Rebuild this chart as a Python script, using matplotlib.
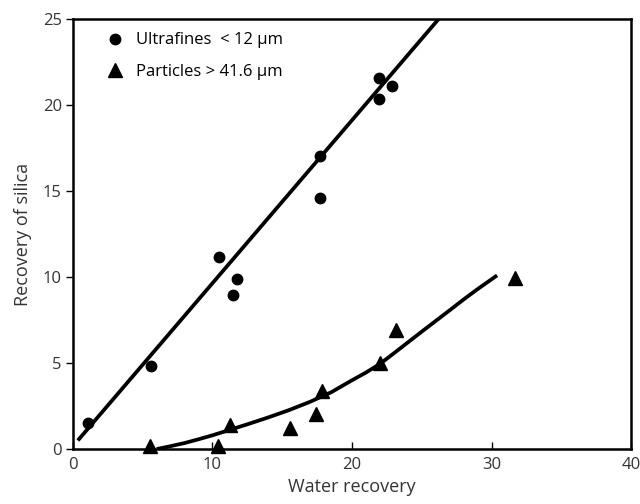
import matplotlib
matplotlib.use('Agg')
import matplotlib.pyplot as plt

plt.rcParams['font.family'] = ['Open Sans', 'DejaVu Sans']

# ultrafines < 12 um
fine_x = [1.05, 5.6, 10.45, 11.45, 11.75, 17.7, 17.7, 21.9, 21.9, 22.9]
fine_y = [1.5, 4.85, 11.15, 8.95, 9.9, 17.05, 14.6, 21.6, 20.35, 21.1]
fine_fit_x = [0.35, 26.2]
fine_fit_y = [0.5, 25.0]

# particles > 41.6 um
coarse_x = [5.5, 10.4, 11.25, 15.55, 17.4, 17.85, 22.0, 23.15, 31.7]
coarse_y = [0.2, 0.2, 1.4, 1.25, 2.05, 3.4, 5.0, 6.9, 9.95]
coarse_fit_x = [6.0, 7.0, 8.0, 9.0, 10.0, 11.25, 12.5, 14.0, 15.5, 17.0, 18.5, 20.0, 21.0, 22.0,
                23.0, 24.0, 25.0, 26.0, 27.0, 28.0, 29.0, 30.4]
coarse_fit_y = [0.0, 0.17, 0.35, 0.57, 0.8, 1.12, 1.44, 1.84, 2.27, 2.75, 3.3, 4.0, 4.45, 4.95,
                5.57, 6.2, 6.83, 7.45, 8.07, 8.7, 9.3, 10.1]

fig = plt.figure(figsize=(6.4, 5.04), dpi=100)
ax = fig.add_axes([0.114, 0.109, 0.872, 0.853])

ax.plot(coarse_fit_x, coarse_fit_y, color='black', lw=2.7, solid_capstyle='butt', solid_joinstyle='round')
ax.plot(fine_fit_x, fine_fit_y, color='black', lw=2.7, solid_capstyle='butt')
ax.plot(fine_x, fine_y, 'o', color='black', ms=7.5, clip_on=False, label='Ultrafines  < 12 µm')
ax.plot(coarse_x, coarse_y, '^', color='black', ms=9.5, clip_on=False, label='Particles > 41.6 µm')

ax.set_xlim(0, 40)
ax.set_ylim(0, 25)
ax.set_xticks([0, 10, 20, 30, 40])
ax.set_yticks([0, 5, 10, 15, 20, 25])
ax.tick_params(axis='x', direction='in', length=5, width=1, labelsize=12, labelcolor='#333333', pad=6)
ax.tick_params(axis='y', direction='out', length=5, width=1, labelsize=12, labelcolor='#333333', pad=3)
for s in ax.spines.values():
    s.set_linewidth(1.8)

ax.set_xlabel('Water recovery', fontsize=13, color='#333333', labelpad=3)
ax.set_ylabel('Recovery of silica', fontsize=13, color='#333333', labelpad=8)

ax.legend(loc='upper left', frameon=False, fontsize=12, handletextpad=0.6,
          borderaxespad=0.4, labelspacing=0.95, handlelength=1.3,
          bbox_to_anchor=(0.032, 1.0))

fig.savefig('out.png', dpi=100)
